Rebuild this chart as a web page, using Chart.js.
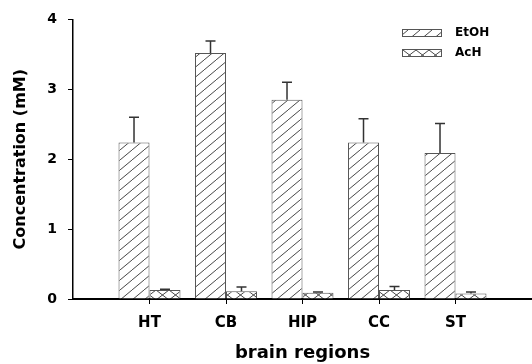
<!DOCTYPE html>
<html>
<head>
<meta charset="utf-8">
<script src="https://cdn.jsdelivr.net/npm/chart.js@4.4.1/dist/chart.umd.min.js"></script>
<style>
  body { margin: 0; background: #fff; }
  #caja { width: 532px; height: 364px; }
</style>
</head>
<body>
<div id="caja"><canvas id="myChart" width="532" height="364"></canvas></div>
<script>
//Datos del grafico
const regiones = ["HT", "CB", "HIP", "CC", "ST"];
const etoh = [2.24, 3.52, 2.85, 2.24, 2.09];
const etohSD = [0.36, 0.17, 0.25, 0.34, 0.42];
const ach = [0.13, 0.11, 0.09, 0.13, 0.08];
const achSD = [0.01, 0.06, 0.01, 0.05, 0.02];
const ticksY = [0, 1, 2, 3, 4];

const fuente = "'DejaVu Sans', Arial, sans-serif";

//----------------------------- Patrones de relleno -----------------------------//
function patronDiagonal() {
  const c = document.createElement("canvas");
  c.width = 12; c.height = 10;
  const g = c.getContext("2d");
  g.fillStyle = "#fff";
  g.fillRect(0, 0, 12, 10);
  g.strokeStyle = "#333";
  g.lineWidth = 0.9;
  g.beginPath();
  g.moveTo(-1.2, 11); g.lineTo(13.2, -1);
  g.stroke();
  return g.createPattern(c, "repeat");
}

function patronCruzado() {
  const c = document.createElement("canvas");
  c.width = 13; c.height = 10;
  const g = c.getContext("2d");
  g.fillStyle = "#fff";
  g.fillRect(0, 0, 13, 10);
  g.strokeStyle = "#333";
  g.lineWidth = 0.9;
  g.beginPath();
  g.moveTo(0, 10); g.lineTo(13, 0);
  g.moveTo(0, 0); g.lineTo(13, 10);
  g.stroke();
  return g.createPattern(c, "repeat");
}

const rayado = patronDiagonal();
const cruzado = patronCruzado();

//----------------------------- Barras de error -----------------------------//
const barrasError = {
  id: "barrasError",
  afterDatasetsDraw(chart) {
    const ctx = chart.ctx;
    const y = chart.scales.y;
    const errores = [etohSD, achSD];
    ctx.save();
    ctx.strokeStyle = "#333";
    ctx.lineWidth = 1.5;
    chart.data.datasets.forEach((ds, d) => {
      const meta = chart.getDatasetMeta(d);
      meta.data.forEach((bar, i) => {
        const arriba = y.getPixelForValue(ds.data[i].y + errores[d][i]);
        ctx.beginPath();
        ctx.moveTo(bar.x, bar.y);
        ctx.lineTo(bar.x, arriba);
        ctx.moveTo(bar.x - 5, arriba);
        ctx.lineTo(bar.x + 5, arriba);
        ctx.stroke();
      });
    });
    ctx.restore();
  },
};

//----------------------------- Leyenda propia -----------------------------//
const leyenda = {
  id: "leyenda",
  afterDraw(chart) {
    const ctx = chart.ctx;
    const items = [
      { texto: "EtOH", patron: rayado, y: 29 },
      { texto: "AcH", patron: cruzado, y: 49 },
    ];
    ctx.save();
    items.forEach((it) => {
      ctx.fillStyle = it.patron;
      ctx.fillRect(402, it.y, 39, 7);
      ctx.strokeStyle = "#555";
      ctx.lineWidth = 1;
      ctx.strokeRect(402.5, it.y + 0.5, 39, 7);
      ctx.fillStyle = "#000";
      ctx.font = "bold 12px " + fuente;
      ctx.textBaseline = "middle";
      ctx.fillText(it.texto, 455, it.y + 4);
    });
    ctx.restore();
  },
};

//----------------------------- Config -----------------------------//
const config = {
  type: "bar",
  data: {
    datasets: [
      {
        label: "EtOH",
        data: etoh.map((v, i) => ({ x: i + 1, y: v })),
        backgroundColor: rayado,
        borderColor: "#555",
        borderWidth: 1,
      },
      {
        label: "AcH",
        data: ach.map((v, i) => ({ x: i + 1, y: v })),
        backgroundColor: cruzado,
        borderColor: "#555",
        borderWidth: 1,
      },
    ],
  },
  options: {
    responsive: false,
    animation: false,
    categoryPercentage: 0.81,
    barPercentage: 1,
    layout: { padding: { top: 17, right: 0, left: 0, bottom: 0 } },
    plugins: { legend: { display: false }, tooltip: { enabled: false } },
    scales: {
      x: {
        type: "linear",
        min: 0,
        max: 6,
        offset: false,
        afterBuildTicks: (s) => { s.ticks = regiones.map((r, i) => ({ value: i + 1 })); },
        afterFit: (s) => { s.height = 65; },
        ticks: {
          callback: (v) => regiones[v - 1],
          color: "#000",
          font: { family: fuente, size: 15, weight: "bold" },
          padding: 10,
          maxRotation: 0,
        },
        grid: { offset: false, drawOnChartArea: false, tickLength: 5, tickColor: "#000", tickWidth: 1 },
        border: { color: "#000", width: 2 },
        title: {
          display: true,
          text: "brain regions",
          color: "#000",
          font: { family: fuente, size: 18, weight: "bold" },
          padding: { top: 0, bottom: 0 },
        },
      },
      y: {
        min: 0,
        max: 4,
        afterBuildTicks: (s) => { s.ticks = ticksY.map((v) => ({ value: v })); },
        afterFit: (s) => { s.width = 73; },
        ticks: {
          color: "#000",
          font: { family: fuente, size: 14, weight: "bold" },
          padding: 11,
        },
        grid: { drawOnChartArea: false, tickLength: 5, tickColor: "#000", tickWidth: 1 },
        border: { color: "#000", width: 1.5 },
        title: {
          display: true,
          text: "Concentration (mM)",
          color: "#000",
          font: { family: fuente, size: 16, weight: "bold" },
          padding: { top: 11, bottom: 0 },
        },
      },
    },
  },
  plugins: [barrasError, leyenda],
};

new Chart(document.getElementById("myChart"), config);
</script>
</body>
</html>
